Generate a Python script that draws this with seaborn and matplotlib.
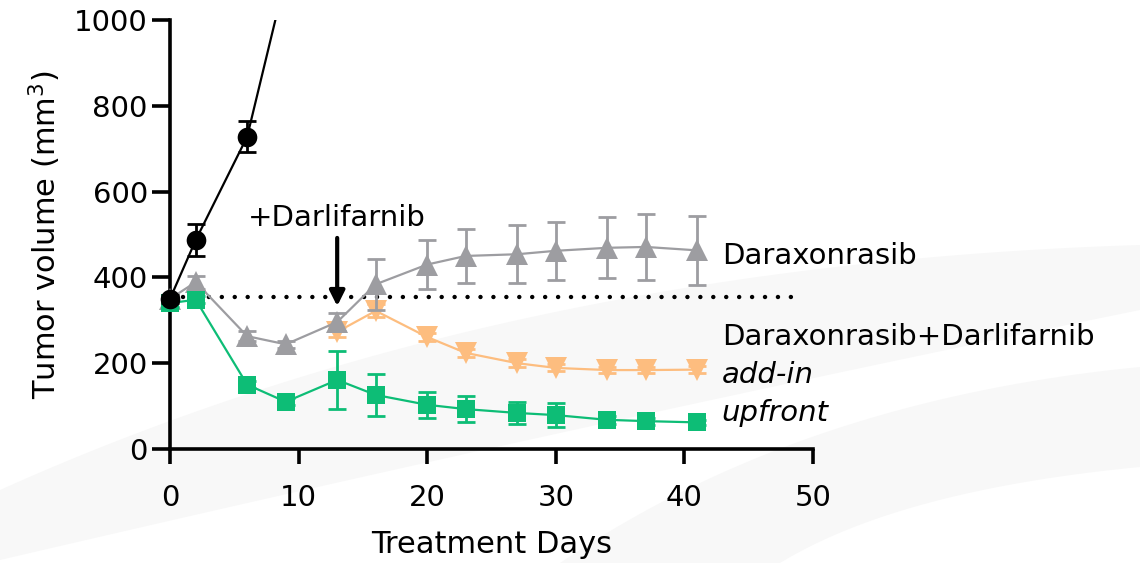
import numpy as np
import pandas as pd
import matplotlib
matplotlib.use("Agg")
import matplotlib.pyplot as plt
from matplotlib.patches import Polygon
import seaborn as sns

# ---------------- data ----------------
days_ctrl = [0, 2, 6, 9]
vol_ctrl = [350, 487, 728, 1100]
err_ctrl = [10, 38, 36, 0]

days_dara = [0, 2, 6, 9, 13, 16, 20, 23, 27, 30, 34, 37, 41]
vol_dara = [350, 389, 263, 244, 296, 384, 430, 450, 454, 462, 469, 471, 463]
err_dara = [8, 15, 12, 8, 20, 60, 57, 62, 67, 67, 71, 77, 80]

days_addin = [13, 16, 20, 23, 27, 30, 34, 37, 41]
vol_addin = [273, 322, 261, 224, 200, 189, 184, 184, 185]
err_addin = [12, 15, 10, 10, 10, 8, 8, 8, 8]

days_upfront = [0, 2, 6, 9, 13, 16, 20, 23, 27, 30, 34, 37, 41]
vol_upfront = [340, 348, 150, 110, 161, 126, 103, 93, 84, 79, 68, 65, 62]
err_upfront = [8, 8, 8, 8, 68, 48, 31, 31, 25, 28, 10, 8, 5]

baseline = 354
addin_day = 13

xticks = [0, 10, 20, 30, 40, 50]
yticks = [0, 200, 400, 600, 800, 1000]

c_ctrl = "#000000"
c_dara = "#9d9da1"
c_addin = "#fdbd7f"
c_upfront = "#0dbd76"

# ---------------- style ----------------
sns.set_style("white")
plt.rcParams["font.family"] = ["DejaVu Sans"]
plt.rcParams["mathtext.fontset"] = "dejavusans"
for k in ("text.color", "axes.labelcolor", "xtick.color", "ytick.color",
          "xtick.labelcolor", "ytick.labelcolor"):
    plt.rcParams[k] = "black"
FS = 21

fig = plt.figure(figsize=(11.4, 5.63), dpi=100)

# faint background swoosh (decorative watermark)
bg = "#f8f8f8"
W, H = 1140, 563


def bez(p0, p1, p2, n=60):
    t = np.linspace(0, 1, n)[:, None]
    p0, p1, p2 = map(np.asarray, (p0, p1, p2))
    return (1 - t) ** 2 * p0 + 2 * (1 - t) * t * p1 + t ** 2 * p2


def band(upper, lower):
    u = bez(*upper)
    l = bez(*lower)[::-1]
    pts = np.vstack([u, l])
    pts = np.column_stack([pts[:, 0] / W, 1 - pts[:, 1] / H])
    fig.patches.append(Polygon(pts, closed=True, transform=fig.transFigure,
                               facecolor=bg, edgecolor="none", zorder=-10))


band(((0, 490), (500, 265), (1140, 245)), ((0, 560), (600, 420), (1140, 310)))
band(((560, 563), (800, 400), (1140, 367)), ((780, 563), (900, 490), (1140, 467)))

ax = fig.add_axes([170 / W, 1 - 449 / H, (813 - 170) / W, (449 - 20) / H])
ax.patch.set_alpha(0)

lw = 1.6
cap = 6.5
elw = 2

# add-in (orange)
ax.errorbar(days_addin, vol_addin, yerr=err_addin, fmt="none", ecolor=c_addin,
            elinewidth=elw, capsize=cap, capthick=elw, zorder=2, clip_on=False)
df_a = pd.DataFrame({"day": days_addin, "vol": vol_addin})
sns.lineplot(data=df_a, x="day", y="vol", ax=ax, color=c_addin, lw=lw, marker="v",
             markersize=16, markeredgewidth=0, zorder=2, clip_on=False)

# daraxonrasib (gray)
ax.errorbar(days_dara, vol_dara, yerr=err_dara, fmt="none", ecolor=c_dara,
            elinewidth=elw, capsize=cap, capthick=elw, zorder=3, clip_on=False)
df_d = pd.DataFrame({"day": days_dara, "vol": vol_dara})
sns.lineplot(data=df_d, x="day", y="vol", ax=ax, color=c_dara, lw=lw, marker="^",
             markersize=16, markeredgewidth=0, zorder=3, clip_on=False)

# upfront (green)
ax.errorbar(days_upfront, vol_upfront, yerr=err_upfront, fmt="none", ecolor=c_upfront,
            elinewidth=elw, capsize=cap, capthick=elw, zorder=4, clip_on=False)
df_u = pd.DataFrame({"day": days_upfront, "vol": vol_upfront})
sns.lineplot(data=df_u, x="day", y="vol", ax=ax, color=c_upfront, lw=lw, marker="s",
             markersize=12.5, markeredgewidth=0, zorder=4, clip_on=False)

# control (black)
df_c = pd.DataFrame({"day": days_ctrl, "vol": vol_ctrl})
sns.lineplot(data=df_c, x="day", y="vol", ax=ax, color=c_ctrl, lw=lw, zorder=5)
vis = [i for i, v in enumerate(vol_ctrl) if v <= 1000]
ax.errorbar([days_ctrl[i] for i in vis], [vol_ctrl[i] for i in vis],
            yerr=[err_ctrl[i] for i in vis], fmt="none", ecolor=c_ctrl,
            elinewidth=elw, capsize=cap, capthick=elw, zorder=5, clip_on=False)
sns.scatterplot(x=[days_ctrl[i] for i in vis], y=[vol_ctrl[i] for i in vis], ax=ax,
                color=c_ctrl, s=200, linewidth=0, zorder=6, clip_on=False)

# baseline dotted line
ax.plot([1, 49], [baseline, baseline], color="black", lw=3.2,
        linestyle=(0, (0.01, 2.9)), dash_capstyle="round", zorder=1, clip_on=False)

# arrow + annotation
ax.annotate("", xy=(addin_day, 333), xytext=(addin_day, 492),
            arrowprops=dict(arrowstyle="-|>,head_length=0.9,head_width=0.45",
                            lw=3, color="black", shrinkA=0, shrinkB=0), zorder=7)
ax.text(addin_day, 538, "+Darlifarnib", ha="center", va="center", fontsize=FS)

# series labels
lx = 42.9
ax.text(lx, 450, "Daraxonrasib", ha="left", va="center", fontsize=FS, clip_on=False)
ax.text(lx, 261, "Daraxonrasib+Darlifarnib", ha="left", va="center", fontsize=FS, clip_on=False)
ax.text(lx, 172, "add-in", ha="left", va="center", fontsize=FS, style="italic", clip_on=False)
ax.text(lx, 84, "upfront", ha="left", va="center", fontsize=FS, style="italic", clip_on=False)

# axes
ax.set_xlim(0, 50)
ax.set_ylim(0, 1000)
ax.set_xticks(xticks)
ax.set_yticks(yticks)
sns.despine(ax=ax)
for s in ("left", "bottom"):
    ax.spines[s].set_linewidth(2.6)
    ax.spines[s].set_color("black")
ax.tick_params(axis="y", length=13, width=2.6, pad=3, labelsize=FS, direction="out",
               left=True, colors="black")
ax.tick_params(axis="x", length=11, width=2.6, pad=14, labelsize=FS, direction="out",
               bottom=True, colors="black")
ax.set_xlabel("Treatment Days", fontsize=22, labelpad=13, color="black")
ax.set_ylabel("Tumor volume (mm$^3$)", fontsize=22, labelpad=8, color="black")
ax.grid(False)

fig.savefig("out.png", dpi=100, facecolor="white")
